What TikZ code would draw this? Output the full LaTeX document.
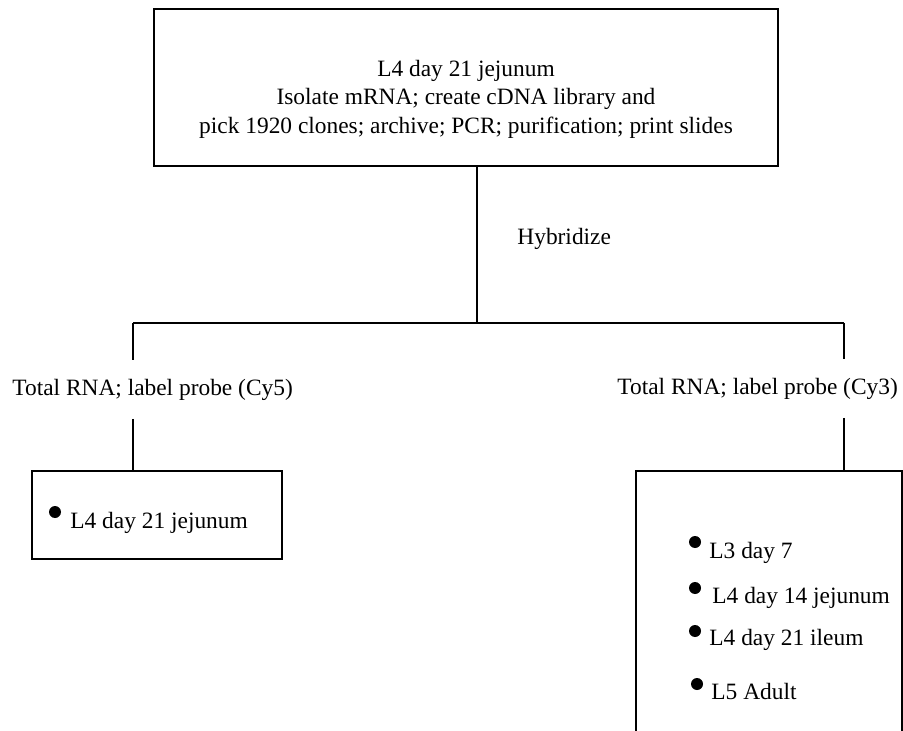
\documentclass[tikz,border=0pt]{standalone}
\usepackage{fontspec}
\setmainfont{Liberation Serif}
\usetikzlibrary{positioning}

\begin{document}
\begin{tikzpicture}[
  x=0.5pt, y=-0.5pt,
  font=\fontsize{11.7}{12.75}\selectfont,
  box/.style={
    rectangle,
    draw=black, line width=0.6pt,
    inner sep=0pt
  },
  lbl/.style={inner xsep=0pt, inner ysep=9.2pt, anchor=base west},
  txt/.style={inner sep=0pt, anchor=base west},
  dot/.style={circle, fill=black, inner sep=0pt, minimum size=6pt},
  link/.style={line width=0.6pt}
]

\useasboundingbox (0,0) rectangle (903,731);
\clip (0,0) rectangle (903,731);

\node[box, minimum width=312pt, minimum height=78.5pt] (cdna) at (466,87.5) {};
\node[inner sep=0pt, align=center, font=\fontsize{11.7}{14.2}\selectfont] (cdnatext) at (466,99) {L4 day 21 jejunum\\Isolate mRNA; create cDNA library and\\pick 1920 clones; archive; PCR; purification; print slides};

\coordinate (hub) at (477,323);
\coordinate (split5) at (133,323);
\coordinate (split3) at (844,323);

\node[txt] (hyb) at (517,245) {Hybridize};

\node[lbl] (cy5) at (12,395) {Total RNA; label probe (Cy5)};
\node[lbl] (cy3) at (617,394) {Total RNA; label probe (Cy3)};

\node[box, minimum width=125pt, minimum height=44pt] (probe5) at (157,515) {};
\node[dot] (dot5) at (55,512) {};
\node[txt] (item5) at (70,528) {L4 day 21 jejunum};

\node[box, minimum width=133pt, minimum height=155pt] (probe3) at (769,626) {};
\node[dot] (dota) at (695,542) {};
\node[txt] (itema) at (709,558) {L3 day 7};
\node[dot] (dotb) at (695,588) {};
\node[txt] (itemb) at (712,603) {L4 day 14 jejunum};
\node[dot] (dotc) at (695,631) {};
\node[txt] (itemc) at (709,645) {L4 day 21 ileum};
\node[dot] (dotd) at (697,684) {};
\node[txt] (itemd) at (711,699) {L5 Adult};

\draw[link] (cdna.south -| hub) -- (hub);
\draw[link] (split5) -- (split3);
\draw[link] (split5) -- (cy5.north -| split5);
\draw[link] (cy5.south -| split5) -- (probe5.north -| split5);
\draw[link] (split3) -- (cy3.north -| split3);
\draw[link] (cy3.south -| split3) -- (probe3.north -| split3);

\end{tikzpicture}
\end{document}
